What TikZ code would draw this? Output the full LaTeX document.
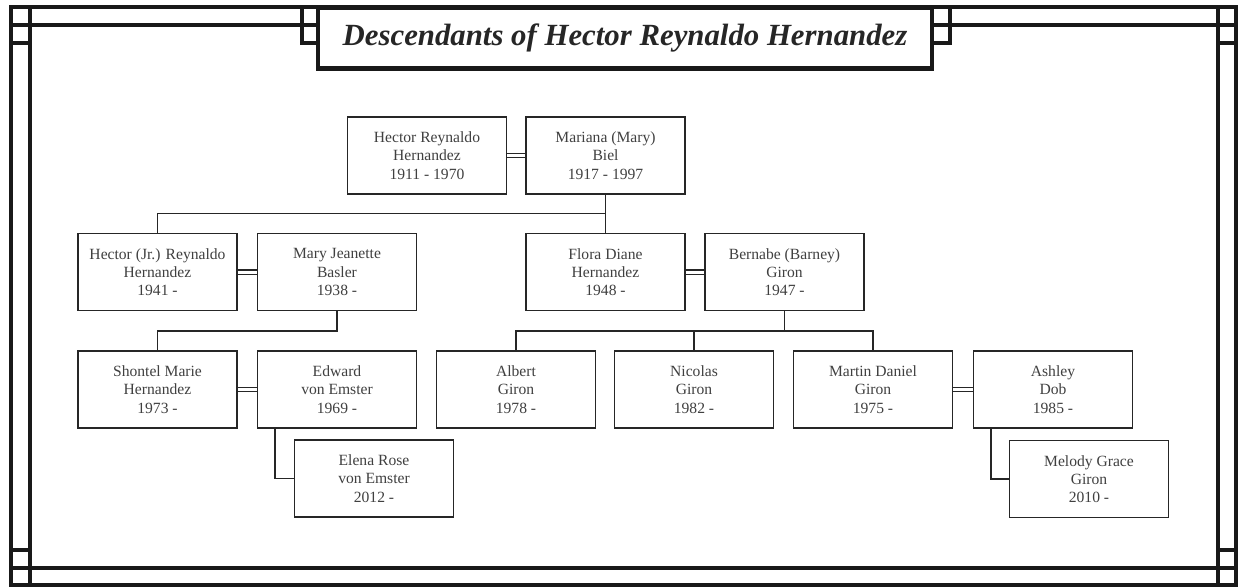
\documentclass[tikz,border=0pt]{standalone}
\usepackage{fontspec}
\setmainfont{Liberation Serif}
\begin{document}
\begin{tikzpicture}[x=1pt,y=-1pt,
  person/.style={draw=black!85, line width=1.5pt, fill=white, minimum width=159pt, minimum height=77pt,
    inner sep=0pt, align=center, text=black!75, font=\fontsize{15.6}{18.2}\selectfont},
  link/.style={draw=black!85, line width=1.5pt},
  spouse/.style={draw=black!85, double=white, line width=1.3pt, double distance=3pt},
  frame/.style={line width=4.5pt, line cap=rect, draw=black!90}]
\useasboundingbox (0,0) rectangle (1239,588);
\draw[frame] (11,7) rectangle (1236,585);
\draw[frame] (30,7) -- (30,585);
\draw[frame] (1218,7) -- (1218,585);
\draw[frame] (11,25) -- (1236,25);
\draw[frame] (11,568) -- (1236,568);
\draw[frame] (11,43) -- (30,43);
\draw[frame] (11,550) -- (30,550);
\draw[frame] (1218,43) -- (1236,43);
\draw[frame] (1218,550) -- (1236,550);
\draw[frame] (302,7) -- (302,43) -- (318,43);
\draw[frame] (950,7) -- (950,43) -- (932,43);
\node[frame, fill=white, minimum width=614pt, minimum height=61pt, inner sep=0pt,
  font=\fontsize{30.8}{34}\selectfont\bfseries\itshape, text=black!85] (title) at (625,38)
  {Descendants of Hector Reynaldo Hernandez};

\node[person] (hector) at (427,155.5) {Hector Reynaldo\\Hernandez\\1911 - 1970};
\node[person] (mariana) at (605.5,155.5) {Mariana (Mary)\\Biel\\1917 - 1997};
\node[person] (hectorjr) at (157.5,272) {Hector (Jr.) Reynaldo\\Hernandez\\1941 -};
\node[person] (maryj) at (337,272) {Mary Jeanette\\Basler\\1938 -};
\node[person] (flora) at (605.5,272) {Flora Diane\\Hernandez\\1948 -};
\node[person] (bernabe) at (784.5,272) {Bernabe (Barney)\\Giron\\1947 -};
\node[person] (shontel) at (157.5,389.5) {Shontel Marie\\Hernandez\\1973 -};
\node[person] (edward) at (337,389.5) {Edward\\von Emster\\1969 -};
\node[person] (albert) at (516,389.5) {Albert\\Giron\\1978 -};
\node[person] (nicolas) at (694,389.5) {Nicolas\\Giron\\1982 -};
\node[person] (martin) at (873,389.5) {Martin Daniel\\Giron\\1975 -};
\node[person] (ashley) at (1053,389.5) {Ashley\\Dob\\1985 -};
\node[person] (elena) at (374,478.5) {Elena Rose\\von Emster\\2012 -};
\node[person] (melody) at (1089,479) {Melody Grace\\Giron\\2010 -};

\coordinate (genA) at (605.5,213.5);
\coordinate (genB) at (337,331);
\coordinate (genC) at (784.5,331);

\draw[spouse] (hector) -- (mariana);
\draw[spouse] (hectorjr) -- (maryj);
\draw[spouse] (flora) -- (bernabe);
\draw[spouse] (shontel) -- (edward);
\draw[spouse] (martin) -- (ashley);

\draw[link] (mariana) -- (flora);
\draw[link] (genA) -| (hectorjr);
\draw[link] (maryj) -- (genB) -| (shontel);
\draw[link] (bernabe) -- (genC);
\draw[link] (albert) |- (genC) -| (martin);
\draw[link] (nicolas) -- (nicolas |- genC);
\draw[link] ([xshift=18pt]edward.south west) |- (elena);
\draw[link] ([xshift=18pt]ashley.south west) |- (melody);
\end{tikzpicture}
\end{document}
